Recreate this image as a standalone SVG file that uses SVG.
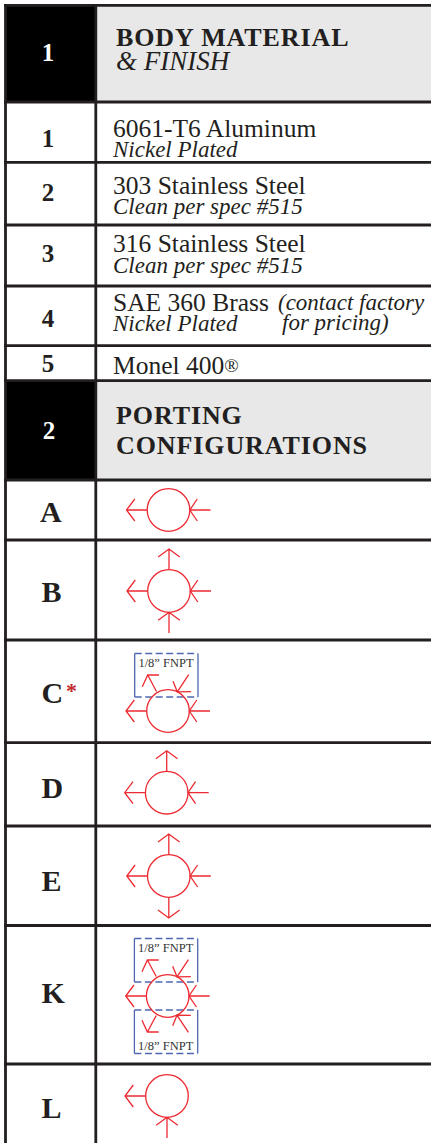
<svg xmlns="http://www.w3.org/2000/svg" width="431" height="1143" viewBox="0 0 431 1143">
<style>
.grid{stroke:#231f20;stroke-width:2.8;fill:none}
.t{font-family:"Liberation Serif","Times New Roman",serif;fill:#231f20}
.num{font-weight:bold;font-size:25px;text-anchor:middle}
.hnum{font-weight:bold;font-size:25px;text-anchor:middle;fill:#ffffff}
.let{font-weight:bold;font-size:30px}
.title{font-weight:bold;font-size:26px;letter-spacing:0.9px}
.sub{font-style:italic;font-size:27px}
.reg{font-size:25.5px}
.it{font-style:italic;font-size:23px}
.sym{fill:none;stroke:#ed2a32;stroke-width:1.3}
.box{fill:none;stroke:#4f67b1;stroke-width:1.3}
.dash{stroke-dasharray:7 3.5}
.port{font-family:"Liberation Serif","Times New Roman",serif;font-size:12.5px;fill:#333333;text-anchor:middle}
.ast{font-family:"Liberation Serif","Times New Roman",serif;font-weight:bold;font-size:22px;fill:#c1272d}
</style>
<defs>
<circle id="c" r="21.3"/>
<path id="lo" d="M-21.3,0H-42M-33.7,-11L-42,0L-33.7,11"/>
<path id="ri" d="M42,0H21.3M28.8,-11L21.3,0L28.8,11"/>
<path id="to" d="M0,-21.3V-42M-10.8,-34L0,-42L10.8,-34"/>
<path id="bi" d="M0,42V21.3M-10.8,29.3L0,21.3L10.8,29.3"/>
<path id="bo" d="M0,21.3V42M-10.8,34L0,42L10.8,34"/>
<g id="diag">
<path d="M-11.5,-19.5L-20.3,-36M-9,-36L-20.3,-36L-25.7,-24.2"/>
<path d="M20.7,-36.3L9.3,-19.2M5,-29.8L9.3,-19.2L23.1,-19.3"/>
</g>
<g id="portbox">
<path class="box" d="M-33.3,-57.5V-14M30,-57.5V-14"/>
<path class="box dash" d="M-33.3,-57.5H30M-33.3,-14H30"/>
</g>
</defs>

<g id="table">
<rect x="5" y="5" width="90" height="97" fill="#000000"/>
<rect x="96" y="5" width="335" height="97" fill="#e8e8e8"/>
<rect x="5" y="381" width="90" height="99" fill="#000000"/>
<rect x="96" y="381" width="335" height="99" fill="#e8e8e8"/>
<path class="grid" d="M4,5.3H431M4,102H431M4,162.3H431M4,225H431M4,286H431M4,345.7H431M4,380.7H431M4,480H431M4,540H431M4,640H431M4,742.7H431M4,826H431M4,925.5H431M4,1064H431"/>
<path class="grid" d="M5.5,4V1143M95.8,4V1143"/>
</g>

<g id="section-1-header">
<text class="t hnum" x="48" y="60.5">1</text>
<text class="t title" x="116" y="46">BODY MATERIAL</text>
<text class="t sub" x="116" y="70">&amp; FINISH</text>
</g>
<g id="material-1">
<text class="t num" x="48" y="147">1</text>
<text class="t reg" x="113" y="137">6061-T6 Aluminum</text>
<text class="t it" x="113" y="157">Nickel Plated</text>
</g>
<g id="material-2">
<text class="t num" x="48" y="201">2</text>
<text class="t reg" x="113" y="194">303 Stainless Steel</text>
<text class="t it" x="113" y="214">Clean per spec #515</text>
</g>
<g id="material-3">
<text class="t num" x="48" y="261.5">3</text>
<text class="t reg" x="113" y="252">316 Stainless Steel</text>
<text class="t it" x="113" y="273">Clean per spec #515</text>
</g>
<g id="material-4">
<text class="t num" x="48" y="327">4</text>
<text class="t reg" x="113" y="311">SAE 360 Brass</text>
<text class="t it" x="113" y="331">Nickel Plated</text>
<text class="t it" x="278" y="310">(contact factory</text>
<text class="t it" x="282" y="330">for pricing)</text>
</g>
<g id="material-5">
<text class="t num" x="48" y="372">5</text>
<text class="t reg" x="113" y="374">Monel 400<tspan font-size="19" dy="-2">®</tspan></text>
</g>

<g id="section-2-header">
<text class="t hnum" x="49" y="439">2</text>
<text class="t title" x="116" y="424">PORTING</text>
<text class="t title" x="116" y="454">CONFIGURATIONS</text>
</g>

<g id="config-A">
<text class="t let" x="40" y="521.7">A</text>
<g class="sym" transform="translate(168.5,510)"><use href="#c"/><use href="#lo"/><use href="#ri"/></g>
</g>
<g id="config-B">
<text class="t let" x="41.5" y="602.3">B</text>
<g class="sym" transform="translate(169,591)"><use href="#c"/><use href="#lo"/><use href="#ri"/><use href="#to"/><use href="#bi"/></g>
</g>
<g id="config-C">
<text class="t let" x="41.5" y="703.3">C</text>
<text class="ast" x="66" y="698">*</text>
<g class="sym" transform="translate(168,711)"><use href="#portbox"/><use href="#c"/><use href="#lo"/><use href="#ri"/><use href="#diag"/></g>
<text class="port" x="166" y="667">1/8” FNPT</text>
</g>
<g id="config-D">
<text class="t let" x="41.5" y="798.3">D</text>
<g class="sym" transform="translate(166.7,792.7)"><use href="#c"/><use href="#lo"/><use href="#ri"/><use href="#to"/></g>
</g>
<g id="config-E">
<text class="t let" x="41.5" y="890.7">E</text>
<g class="sym" transform="translate(168.8,876)"><use href="#c"/><use href="#lo"/><use href="#ri"/><use href="#to"/><use href="#bo"/></g>
</g>
<g id="config-K">
<text class="t let" x="41.5" y="1003.3">K</text>
<g class="sym" transform="translate(167.7,996)"><use href="#portbox"/><use href="#portbox" transform="scale(1,-1)"/><use href="#c"/><use href="#lo"/><use href="#ri"/><use href="#diag"/><use href="#diag" transform="scale(1,-1)"/></g>
<text class="port" x="165.7" y="952">1/8” FNPT</text>
<text class="port" x="165.7" y="1049.5">1/8” FNPT</text>
</g>
<g id="config-L">
<text class="t let" x="41.5" y="1118.3">L</text>
<g class="sym" transform="translate(167,1096)"><use href="#c"/><use href="#lo"/><use href="#bi"/></g>
</g>
</svg>
